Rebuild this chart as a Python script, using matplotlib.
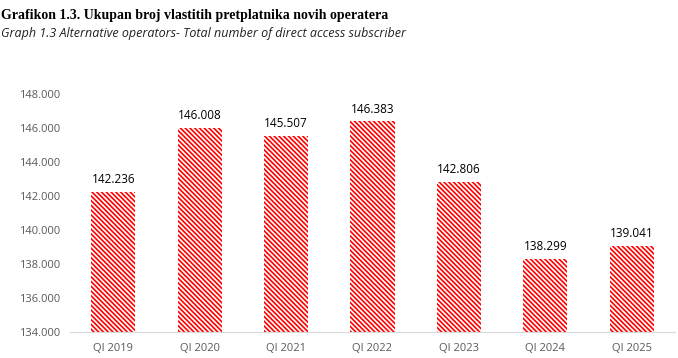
import matplotlib.pyplot as plt

categories = ["QI 2019", "QI 2020", "QI 2021", "QI 2022", "QI 2023", "QI 2024", "QI 2025"]
subscribers = [142236, 146008, 145507, 146383, 142806, 138299, 139041]
y_ticks = [134000, 136000, 138000, 140000, 142000, 144000, 146000, 148000]


def fmt(v):
    return f"{v:,}".replace(",", ".")


def plot_chart():
    plt.rcParams["hatch.linewidth"] = 1.2
    plt.rcParams["hatch.color"] = "#ff0000"

    fig = plt.figure(figsize=(6.78, 3.58), dpi=100)
    ax = fig.add_axes([70 / 678, 1 - 332 / 358, 605 / 678, 238 / 358])

    x = range(len(categories))
    bars = ax.bar(x, [v - y_ticks[0] for v in subscribers], bottom=y_ticks[0],
                  width=0.51, color="white", edgecolor="#ff0000", linewidth=0,
                  hatch="\\" * 7)

    for b, v in zip(bars, subscribers):
        ax.text(b.get_x() + b.get_width() / 2, v + 350, fmt(v),
                ha="center", va="bottom", fontsize=8.5, color="black",
                family="Open Sans")

    ax.set_xlim(-0.5, len(categories) - 0.5)
    ax.set_ylim(y_ticks[0], y_ticks[-1])
    ax.set_yticks(y_ticks)
    ax.set_yticklabels([fmt(t) for t in y_ticks], family="Open Sans", fontsize=8, color="#595959")
    ax.set_xticks(list(x))
    ax.set_xticklabels(categories, family="Open Sans", fontsize=8, color="#595959")
    ax.tick_params(axis="x", length=0, pad=8)
    ax.tick_params(axis="y", length=0, pad=7)
    for s in ["top", "right", "left"]:
        ax.spines[s].set_visible(False)
    ax.spines["bottom"].set_color("#d9d9d9")

    fig.text(0.002, 0.975, "Grafikon 1.3. Ukupan broj vlastitih pretplatnika novih operatera",
             fontsize=10, fontweight="bold", family="Liberation Serif", va="top")
    fig.text(0.002, 0.925, "Graph 1.3 Alternative operators- Total number of direct access subscriber",
             fontsize=9, style="italic", family="Open Sans", va="top", color="#222222")

    fig.savefig("out.png", dpi=100)


if __name__ == "__main__":
    plot_chart()
